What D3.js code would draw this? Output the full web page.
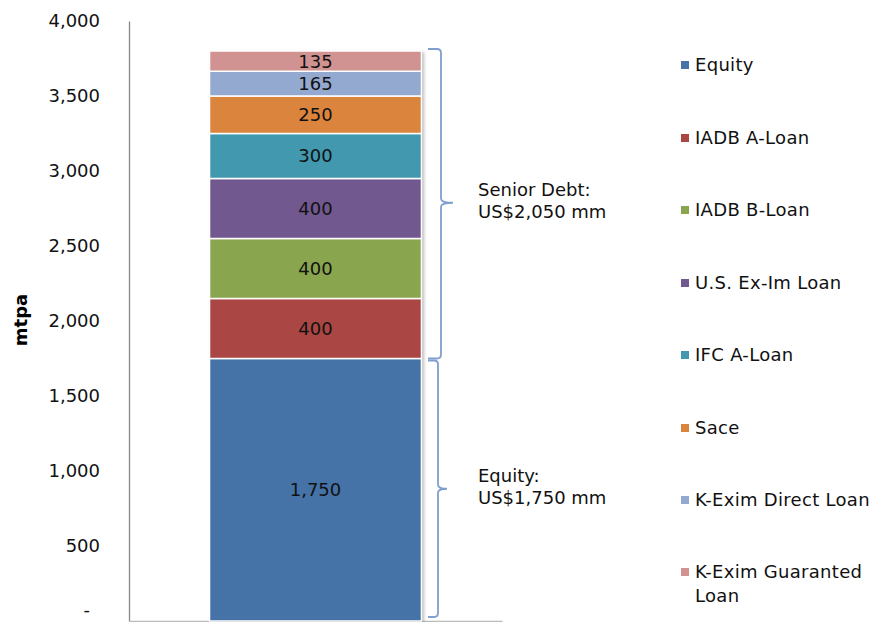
<!DOCTYPE html>
<html><head><meta charset="utf-8">
<script src="https://cdn.jsdelivr.net/npm/d3@7"></script>
<style>
html,body{margin:0;padding:0;background:#fff;}
svg{display:block;font-family:"DejaVu Sans",Verdana,sans-serif;}
</style></head>
<body><svg id="c" width="881" height="622"></svg>
<script>
const categories = ["Financing"];
const seriesNames = ["Equity","IADB A-Loan","IADB B-Loan","U.S. Ex-Im Loan","IFC A-Loan","Sace","K-Exim Direct Loan","K-Exim Guaranted Loan"];
const seriesValues = [1750,400,400,400,300,250,165,135];
const seriesColors = ["#4572A7","#AA4643","#89A54E","#71588F","#4198AF","#DB843D","#93A9CF","#D19392"];
const yTicks = [0,500,1000,1500,2000,2500,3000,3500,4000];
const yTitle = "mtpa";
const groups = [
  {from:0, to:1750, lines:["Equity:","US$1,750 mm"]},
  {from:1750, to:3800, lines:["Senior Debt:","US$2,050 mm"]}
];

const svg = d3.select("#c");
const fmt = d3.format(",");
const x0 = 129, x1 = 502, yTop = 21, yBot = 621;
const y = d3.scaleLinear().domain([0,4000]).range([yBot,yTop]);
const x = d3.scaleBand().domain(categories).range([x0,x1]).paddingInner(0).paddingOuter(0.38);

const defs = svg.append("defs");
const f = defs.append("filter").attr("id","sh").attr("x","-10%").attr("y","-10%").attr("width","130%").attr("height","130%");
f.append("feDropShadow").attr("dx",2.5).attr("dy",1).attr("stdDeviation",1.6).attr("flood-color","#000").attr("flood-opacity",0.28);

// axes
const yAxis = d3.axisLeft(y).tickValues(yTicks).tickSize(0).tickPadding(29)
  .tickFormat(d => d === 0 ? "-" : fmt(d));
const gy = svg.append("g").attr("transform",`translate(${x0},0)`).call(yAxis);
gy.select(".domain").attr("stroke","#888").attr("stroke-width",1.3);
gy.selectAll("text").attr("font-size",18).attr("fill","#111").attr("font-family","DejaVu Sans, Verdana, sans-serif");
gy.selectAll(".tick").filter(d=>d===0).select("text").attr("dx",-10).attr("dy","-0.28em");

const xAxis = d3.axisBottom(x).tickSize(0).tickFormat("");
const gx = svg.append("g").attr("transform",`translate(0,${yBot})`).call(xAxis);
gx.select(".domain").attr("stroke","#bbb").attr("stroke-width",1.3);

// stacked bar
const stackData = [Object.fromEntries(seriesNames.map((n,i)=>[n,seriesValues[i]]))];
const stacked = d3.stack().keys(seriesNames)(stackData);
const bar = svg.append("g");
bar.append("rect")
  .attr("x",x(categories[0])).attr("width",x.bandwidth())
  .attr("y",y(d3.sum(seriesValues))).attr("height",y(0)-y(d3.sum(seriesValues)))
  .attr("fill","#fff").attr("filter","url(#sh)");
stacked.forEach((s,i)=>{
  const d = s[0];
  bar.append("rect")
    .attr("x",x(categories[0])).attr("width",x.bandwidth())
    .attr("y",y(d[1])).attr("height",y(d[0])-y(d[1]))
    .attr("fill",seriesColors[i]).attr("stroke","#fff").attr("stroke-width",1.5);
  bar.append("text")
    .attr("x",x(categories[0])+x.bandwidth()/2)
    .attr("y",(y(d[0])+y(d[1]))/2)
    .attr("dy","0.36em").attr("text-anchor","middle")
    .attr("font-size",18).attr("fill","#111")
    .text(fmt(seriesValues[i]));
});

// braces
const bc = "#7F9FCF";
groups.forEach((g,i)=>{
  const top = y(g.to) + (i===1 ? -2 : 2);
  const bot = y(g.from) + (i===0 ? -4 : 0);
  const vx = i===0 ? 438 : 441;
  const tip = i===0 ? 447 : 453;
  const mid = (top+bot)/2 + (i===0 ? 0 : -1);
  const r = 4;
  const p = d3.path();
  p.moveTo(428, top);
  p.lineTo(vx-r, top);
  p.quadraticCurveTo(vx, top, vx, top+r);
  p.lineTo(vx, mid-r);
  p.quadraticCurveTo(vx, mid, tip, mid);
  p.moveTo(vx, mid+r);
  p.quadraticCurveTo(vx, mid, tip, mid);
  p.moveTo(vx, mid+r);
  p.lineTo(vx, bot-r);
  p.quadraticCurveTo(vx, bot, vx-r, bot);
  p.lineTo(428, bot);
  svg.append("path").attr("d",p.toString()).attr("fill","none").attr("stroke",bc).attr("stroke-width",1.8);
  const t = svg.append("text").attr("x",478).attr("y",mid-7).attr("font-size",18).attr("fill","#111");
  g.lines.forEach((l,k)=>t.append("tspan").attr("x",478).attr("dy",k===0?0:22).text(l));
});

// y title
svg.append("text").attr("transform",`translate(27,320) rotate(-90)`)
  .attr("text-anchor","middle").attr("font-size",18).attr("font-weight","bold").attr("fill","#000").text(yTitle);

// legend
const legY = [71,144,216,289,361,434,506,578];
const lg = svg.append("g");
seriesNames.forEach((n,i)=>{
  const row = lg.append("g");
  row.append("rect").attr("x",681).attr("y",legY[i]-10).attr("width",8).attr("height",8).attr("fill",seriesColors[i]);
  const words = n === "K-Exim Guaranted Loan" ? ["K-Exim Guaranted","Loan"] : [n];
  const t = row.append("text").attr("x",695).attr("y",legY[i]).attr("font-size",18).attr("letter-spacing",0.3).attr("fill","#111");
  words.forEach((w,k)=>t.append("tspan").attr("x",695).attr("dy",k===0?0:24).text(w));
});
</script></body></html>
